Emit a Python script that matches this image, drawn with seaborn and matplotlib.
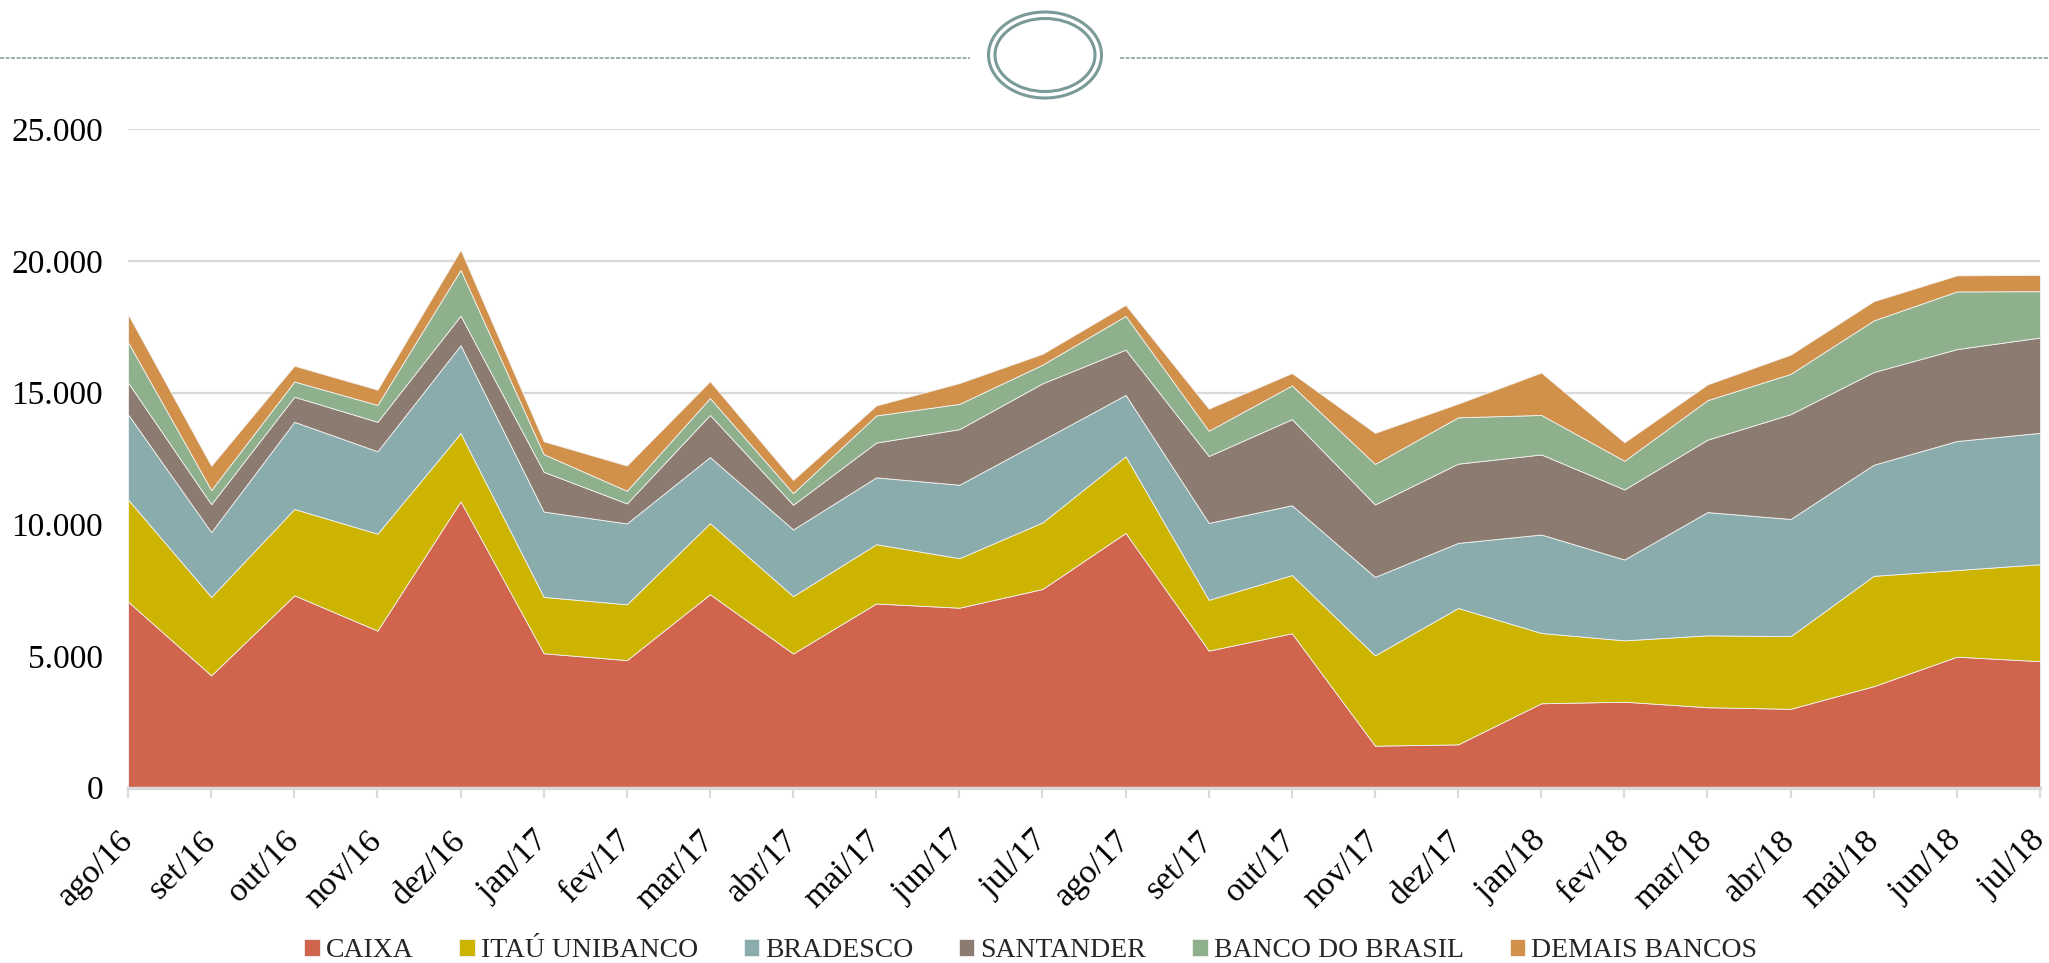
import matplotlib.pyplot as plt
import matplotlib.ticker as mticker
from matplotlib.patches import Ellipse
from matplotlib.lines import Line2D
import seaborn as sns

months = [
    "ago/16", "set/16", "out/16", "nov/16", "dez/16", "jan/17", "fev/17", "mar/17",
    "abr/17", "mai/17", "jun/17", "jul/17", "ago/17", "set/17", "out/17", "nov/17",
    "dez/17", "jan/18", "fev/18", "mar/18", "abr/18", "mai/18", "jun/18", "jul/18",
]

caixa = [7060, 4260, 7300, 5960, 10870, 5100, 4840, 7340, 5090, 6990, 6830, 7540,
         9670, 5200, 5860, 1590, 1640, 3200, 3260, 3050, 2990, 3850, 4970, 4800]
itau = [3880, 2980, 3280, 3680, 2590, 2140, 2120, 2700, 2180, 2250, 1880, 2530,
        2910, 1930, 2210, 3430, 5180, 2670, 2330, 2730, 2760, 4190, 3290, 3680]
bradesco = [3230, 2460, 3310, 3130, 3340, 3240, 3070, 2510, 2530, 2540, 2790, 3130,
            2330, 2920, 2650, 2980, 2470, 3740, 3070, 4680, 4450, 4220, 4900, 4990]
santander = [1210, 1060, 950, 1120, 1120, 1510, 760, 1600, 940, 1320, 2110, 2150,
             1720, 2540, 3270, 2750, 3010, 3040, 2660, 2750, 3980, 3520, 3490, 3620]
banco_brasil = [1530, 540, 580, 640, 1740, 670, 480, 640, 440, 1030, 960, 710,
                1280, 960, 1280, 1540, 1760, 1500, 1090, 1500, 1530, 1960, 2190, 1760]
demais = [1060, 920, 600, 580, 760, 490, 960, 640, 500, 380, 790, 410,
          420, 840, 470, 1180, 520, 1610, 700, 600, 730, 730, 610, 620]

series_names = ["CAIXA", "ITAÚ UNIBANCO", "BRADESCO", "SANTANDER", "BANCO DO BRASIL", "DEMAIS BANCOS"]
colors = ["#D0644C", "#CDB400", "#8BACAC", "#8C7B70", "#8FB08C", "#D1914B"]

sns.set_theme(style="whitegrid")
plt.rcParams["font.family"] = ["Liberation Serif", "DejaVu Serif"]

fig = plt.figure(figsize=(20.49, 9.63), dpi=100)
ax = fig.add_axes([0.0625, 0.1822, 0.9331, 0.6836])

x = list(range(len(months)))
ax.stackplot(
    x, caixa, itau, bradesco, santander, banco_brasil, demais,
    colors=colors, labels=series_names, edgecolor="#f2f2f2", linewidth=0.6,
)

ax.set_xlim(0, len(months) - 1)
ax.set_ylim(0, 25000)
ax.set_yticks(range(0, 25001, 5000))
ax.yaxis.set_major_formatter(
    mticker.FuncFormatter(lambda v, _: f"{int(v):,}".replace(",", "."))
)
ax.set_xticks(x)
ax.set_xticklabels(months, rotation=45, ha="right", va="center", rotation_mode="anchor")

ax.set_facecolor("white")
ax.grid(axis="x", visible=False)
ax.grid(axis="y", color="#d9d9d9", linewidth=1.6)
ax.set_axisbelow(True)
for side in ["top", "right", "left"]:
    ax.spines[side].set_visible(False)
ax.spines["bottom"].set_color("#d9d9d9")
ax.spines["bottom"].set_linewidth(2.5)
ax.spines["bottom"].set_zorder(5)

ax.tick_params(axis="y", length=0, pad=18, labelsize=24, labelcolor="black")
ax.tick_params(axis="x", bottom=True, length=7, width=1.5, color="#d9d9d9",
               pad=28, labelsize=24.5, labelcolor="black")

handles, labels = ax.get_legend_handles_labels()
fig.legend(
    handles, labels, loc="center", bbox_to_anchor=(0.503, 0.013), ncol=6,
    frameon=False, fontsize=20, handlelength=0.55, handleheight=0.55,
    handletextpad=0.22, columnspacing=1.65,
)

# decorative header: dashed rule with a double ellipse in the middle
deco = "#7A9A98"
dash = (0, (2.6, 1.0))
fig.add_artist(Line2D([0.0, 0.4734], [0.9398, 0.9398], transform=fig.transFigure,
                      color=deco, linewidth=1.1, linestyle=dash))
fig.add_artist(Line2D([0.5466, 1.0], [0.9398, 0.9398], transform=fig.transFigure,
                      color=deco, linewidth=1.1, linestyle=dash))
for w, h in [(113, 86), (100, 73)]:
    fig.add_artist(Ellipse((1045 / 2049, 1 - 55 / 963), w / 2049, h / 963,
                           transform=fig.transFigure, fill=False,
                           edgecolor=deco, linewidth=2.2))

fig.savefig("out.png", dpi=100, facecolor="white")
plt.close(fig)
